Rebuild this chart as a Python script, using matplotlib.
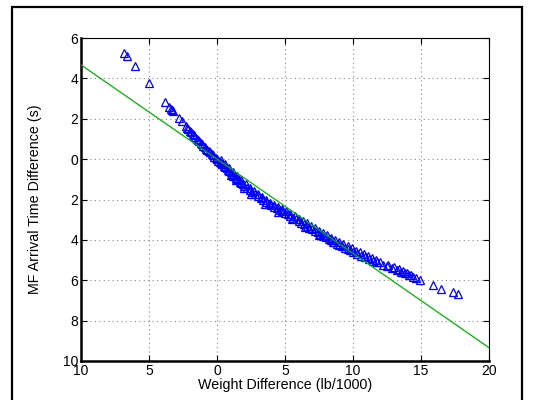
import numpy as np
import matplotlib
matplotlib.use('Agg')
import matplotlib.pyplot as plt
from matplotlib.patches import Rectangle

# weight difference (lb/1000) vs MF arrival time difference (s)
weight_diff = [
    -6.82, -6.64, -6.0, -5.0, -3.85, -3.5, -3.4, -3.3, -3.25, -2.8, -2.6, -2.3, -2.2, -2.1,
    -2.0, -1.9, -1.8, -1.7, -1.6, -1.5, -1.4, -1.3, -1.2, -1.1, -1.0, -0.9, -0.8, -0.7,
    -0.6, -0.5, -0.4, -0.3, -0.2, -0.1, 0.0, 0.1, 0.2, 0.3, 0.4, 0.5, 0.6, 0.7, 0.8, 0.9,
    1.0, 1.1, 1.2, 1.3, 1.4, 1.5, 1.6, 1.7, 1.8, 1.9, 2.0, 2.2, 2.4, 2.6, 2.8, 3.0, 3.2,
    3.4, 3.6, 3.8, 4.0, 4.2, 4.4, 4.6, 4.8, 5.0, 5.2, 5.4, 5.6, 5.8, 6.0, 6.2, 6.4, 6.6,
    6.8, 7.0, 7.2, 7.4, 7.6, 7.8, 8.0, 8.2, 8.4, 8.6, 8.8, 9.0, 9.2, 9.4, 9.6, 9.8, 10.0,
    10.3, 10.6, 10.9, 11.2, 11.5, 11.8, 12.2, 12.5, 12.9, 13.2, 13.5, 13.8, 14.1, 14.4,
    14.6, 14.93, 15.9, 16.47, 17.33, 17.75,
    0.3, 0.6, 0.9, 1.2, 1.5, 1.8, 2.1, 2.4, 2.7, 3.0, 3.3, 3.6, 3.9, 4.2, 4.5, 4.8, 5.1,
    5.4, 5.7, 6.0, 6.3, 6.6, 6.9, 7.2, 7.5, 7.8, 8.1, 8.4, 8.7, 9.0, 9.3, 9.6, 9.9, 10.2,
    10.5, 10.8, 11.1, 11.4, 11.7, 12.0, 12.6, 13.0, 13.4, 13.7, 14.0, 14.3,
    1.0, 1.4, 2.0, 2.5, 3.5, 4.5, 5.5, 6.5, 7.5, 8.5,
]
arrival_diff = [
    5.27, 5.10, 4.60, 3.78, 2.84, 2.60, 2.50, 2.43, 2.40, 2.05, 1.88, 1.63, 1.55, 1.48,
    1.40, 1.33, 1.25, 1.18, 1.10, 1.02, 0.95, 0.88, 0.82, 0.74, 0.66, 0.60, 0.52, 0.46,
    0.40, 0.33, 0.26, 0.20, 0.12, 0.06, 0.0, -0.08, -0.12, -0.20, -0.26, -0.33, -0.38,
    -0.45, -0.52, -0.58, -0.65, -0.72, -0.85, -0.82, -0.95, -0.98, -1.05, -1.12, -1.20,
    -1.22, -1.32, -1.42, -1.55, -1.62, -1.75, -1.85, -1.95, -2.02, -2.10, -2.20, -2.28,
    -2.35, -2.42, -2.50, -2.58, -2.66, -2.74, -2.80, -2.90, -2.98, -3.06, -3.14, -3.22,
    -3.30, -3.40, -3.48, -3.56, -3.62, -3.72, -3.80, -3.88, -3.95, -4.02, -4.10, -4.18,
    -4.25, -4.32, -4.38, -4.45, -4.52, -4.58, -4.68, -4.78, -4.86, -4.95, -5.05, -5.12,
    -5.22, -5.30, -5.40, -5.48, -5.58, -5.66, -5.75, -5.84, -5.90, -6.00, -6.24, -6.41,
    -6.60, -6.66,
    -0.05, -0.25, -0.45, -0.62, -0.85, -1.05, -1.25, -1.42, -1.60, -1.75, -1.90, -2.02,
    -2.15, -2.25, -2.36, -2.48, -2.58, -2.70, -2.82, -2.95, -3.05, -3.18, -3.30, -3.42,
    -3.54, -3.66, -3.78, -3.90, -4.00, -4.12, -4.22, -4.32, -4.42, -4.55, -4.62, -4.72,
    -4.82, -4.90, -5.00, -5.10, -5.25, -5.35, -5.45, -5.55, -5.62, -5.72,
    -0.80, -1.05, -1.45, -1.72, -2.20, -2.60, -2.95, -3.35, -3.75, -4.12,
]

# linear fit shown as the green line
fit_slope = -0.467
fit_intercept = 0.0

x_ticks = [-10, -5, 0, 5, 10, 15, 20]
x_ticklabels = ['10', '5', '0', '5', '10', '15', '20']
y_ticks = [6, 4, 2, 0, -2, -4, -6, -8, -10]
y_ticklabels = ['6', '4', '2', '0', '2', '4', '6', '8', '10']

plt.rcParams['font.family'] = ['Liberation Sans', 'DejaVu Sans']

fig = plt.figure(figsize=(5.34, 4.0), dpi=100)
ax = fig.add_axes([81 / 534, 39 / 400, 408 / 534, 323 / 400])

ax.plot(weight_diff, arrival_diff, '^', mfc='none', mec='#0000ff', ms=6, mew=0.9,
        linestyle='none', zorder=3)
xl = np.array([-10, 20])
ax.plot(xl, fit_slope * xl + fit_intercept, color='#00b400', lw=0.9, zorder=4)

ax.set_xlim(-10, 20)
ax.set_ylim(-10, 6)
ax.set_xticks(x_ticks)
ax.set_xticklabels(x_ticklabels)
ax.set_yticks(y_ticks)
ax.set_yticklabels(y_ticklabels)
ax.tick_params(direction='in', length=4, labelsize=10, top=True, right=True,
               pad=2, colors='black')
ax.grid(True, linestyle=(0, (1, 3)), color='#888888', lw=0.8)
ax.set_axisbelow(True)

for s in ['left', 'bottom']:
    ax.spines[s].set_linewidth(1.8)
for s in ['top', 'right']:
    ax.spines[s].set_linewidth(0.8)

ax.set_xlabel('Weight Difference (lb/1000)', fontsize=10.3, labelpad=0)
ax.set_ylabel('MF Arrival Time Difference (s)', fontsize=10.3, labelpad=15)

# outer frame from the exported figure
fig.patches.append(Rectangle((12 / 534, -0.1), 510 / 534, 1.1 - 7 / 400,
                             transform=fig.transFigure, fill=False,
                             edgecolor='black', lw=1.6))

fig.savefig('out.png', dpi=100)
